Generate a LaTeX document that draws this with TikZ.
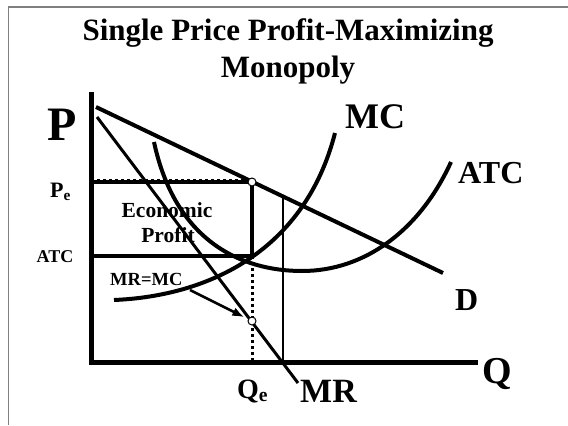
\documentclass[tikz,border=0pt]{standalone}
\usepackage{fontspec}
\setmainfont{Liberation Serif}
\usetikzlibrary{positioning}
\usetikzlibrary{calc}
\usetikzlibrary{arrows.meta}

\begin{document}
\begin{tikzpicture}[x=1pt, y=-1pt,
    every node/.style={inner sep=0pt, font=\bfseries},
    axis/.style={line width=5pt, line join=miter},
    curve/.style={line width=4pt},
    thin line/.style={line width=2.5pt},
    dot/.style={circle, draw, fill=white, line width=1pt, minimum size=8pt}]

      \useasboundingbox (0,0) rectangle (568,426);

      \def\fs#1{\fontsize{#1}{#1}\selectfont} % font size in pt

      % frame of the slide
      \draw[gray, line width=1.5pt] (8.5,425) -- (8.5,7) -- (568,7);

      \node[anchor=base, font=\bfseries\fs{31}] (title1) at (288,40) {Single Price Profit-Maximizing};
      \node[anchor=base, font=\bfseries\fs{31}] (title2) at (288,77) {Monopoly};

      \coordinate (ptop) at (91,92);
      \coordinate (origin) at (91,362);
      \coordinate (qend) at (478,362);

      \coordinate (d0) at (96,107);
      \coordinate (d1) at (443,273);
      \coordinate (mr0) at (97,117);
      \coordinate (mr1) at (298,383);
      \coordinate (mc0) at (114,300);
      \coordinate (mc1) at (335,133);
      \coordinate (atc0) at (154,142);
      \coordinate (atcmin) at (302,271);
      \coordinate (atc1) at (451,162);

      \coordinate (pe) at (91,182);
      \coordinate (atc) at (91,256);
      \coordinate (qe) at (252,362);
      \coordinate (corner) at (252,256);
      \coordinate (dunit) at (283,196.5);
      \coordinate (qunit) at (283,362);

      % economic profit box
      \draw[line width=1pt, dashed] (91,179.5) -- (252,179.5);
      \draw[line width=3.5pt] (pe) rectangle (corner);
      \draw[line width=3pt, dash pattern=on 3pt off 3pt] (corner) -- (qe);
      \draw[thin line] (dunit) -- (qunit);

      % curves
      \draw[curve] (mc0) .. controls (210,296) and (305,250) .. (mc1);
      \draw[curve] (atc0) .. controls (175,240) and (240,271) .. (atcmin)
                          .. controls (365,271) and (420,230) .. (atc1);
      \draw[curve] (d0) -- (d1);
      \draw[line width=3pt] (mr0) -- (mr1);

      \draw[axis] (ptop) -- (origin) -- (qend);

      \node[dot] (pedot) at (252,182) {};
      \node[dot] (mrdot) at (252,321) {};

      % labels
      \node[anchor=base, font=\bfseries\fs{48}] (plabel) at (62,140) {P};
      \node[anchor=base west, font=\bfseries\fs{22}] (pelabel) at (50,197) {P\textsubscript{e}};
      \node[anchor=base, font=\bfseries\fs{18}] (atclabel) at (55,262) {ATC};
      \node[anchor=base, font=\bfseries\fs{21.5}] (econ) at (167,217) {Economic};
      \node[anchor=base, font=\bfseries\fs{21.5}] (profit) at (168,242) {Profit};
      \node[anchor=base west, font=\bfseries\fs{18.5}] (mrmc) at (110,285) {MR=MC};
      \node[anchor=base west, font=\bfseries\fs{36}] (mclabel) at (345,128) {MC};
      \node[anchor=base west, font=\bfseries\fs{32}] (atcname) at (458,183) {ATC};
      \node[anchor=base west, font=\bfseries\fs{32}] (dlabel) at (455,310) {D};
      \node[anchor=base west, font=\bfseries\fs{38}] (qlabel) at (482,383) {Q};
      \node[anchor=base west, font=\bfseries\fs{28}] (qelabel) at (237,398) {Q\textsubscript{e}};
      \node[anchor=base west, font=\bfseries\fs{34}] (mrlabel) at (300,402) {MR};

      \coordinate (arrstart) at (190,290);
      \draw[line width=2.5pt, -{Latex[length=12pt, width=9pt]}, shorten >=4pt] (arrstart) -- (mrdot);

    \end{tikzpicture}
\end{document}
